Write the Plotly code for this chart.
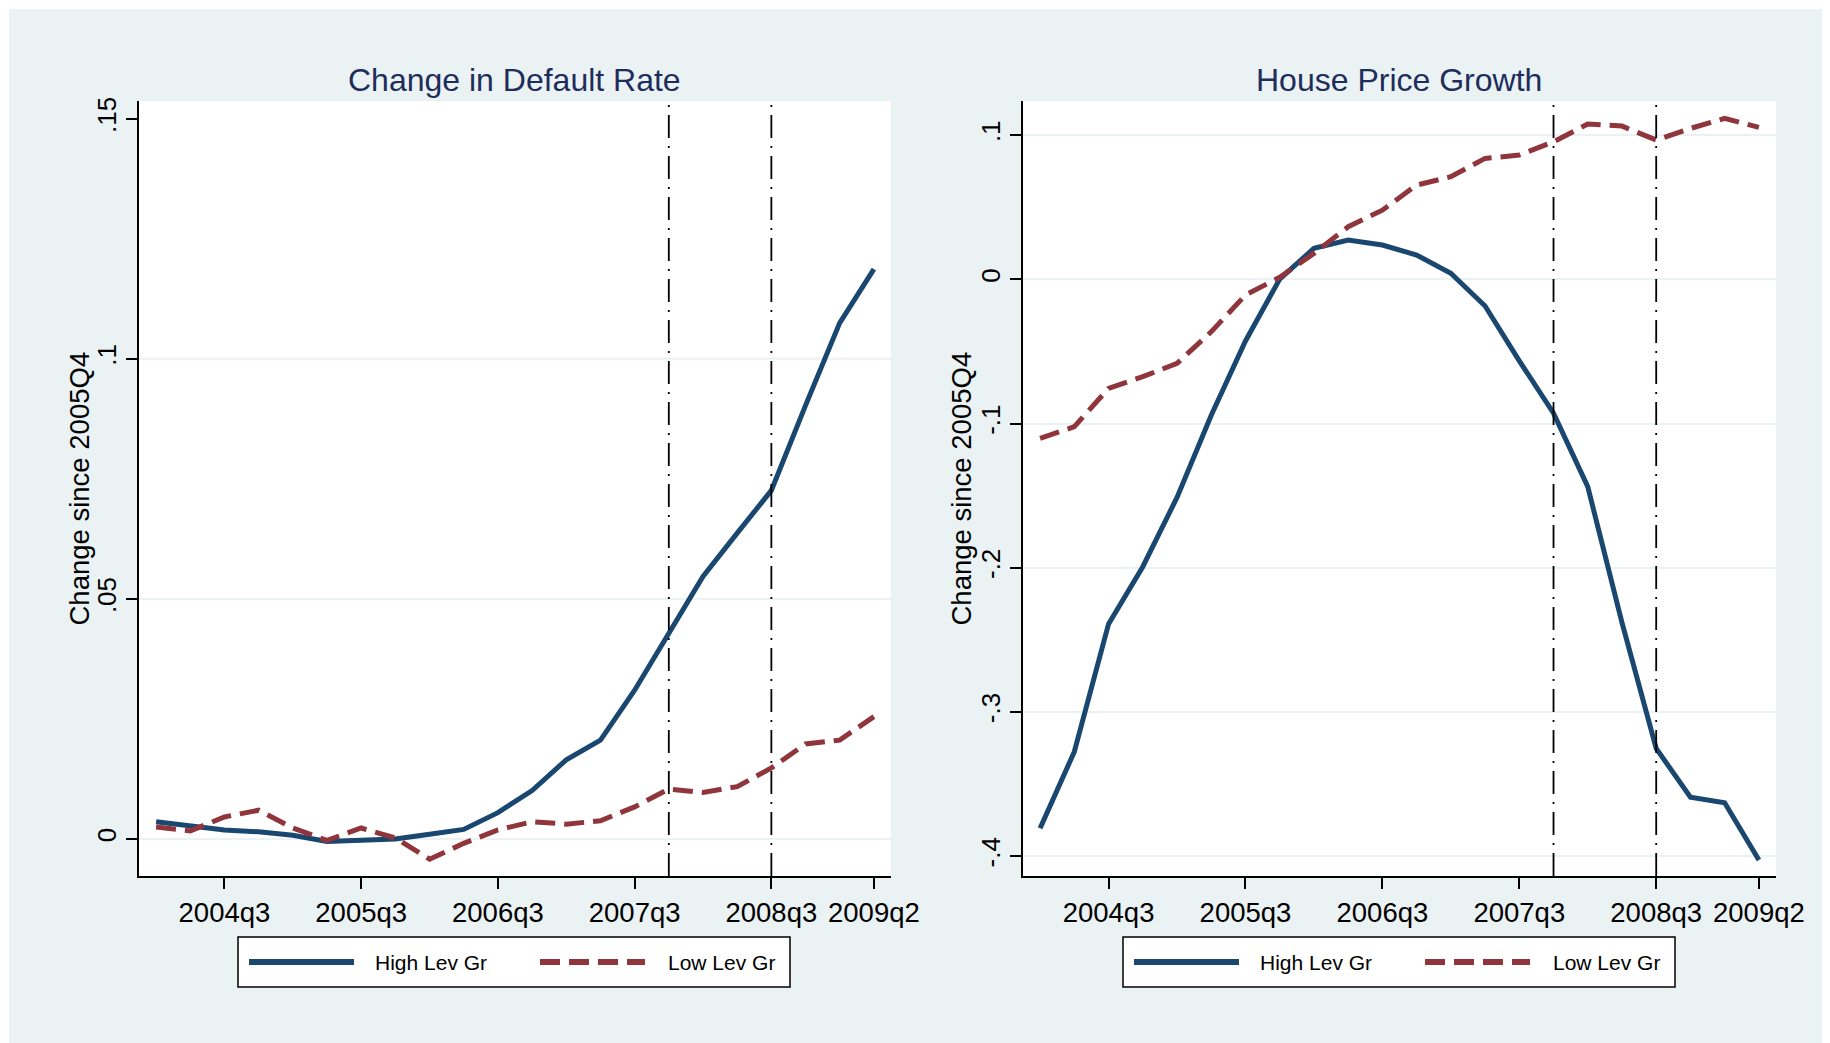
import plotly.graph_objects as go

# ---------------- data ----------------
quarters = ["2004q1", "2004q2", "2004q3", "2004q4", "2005q1", "2005q2", "2005q3", "2005q4",
            "2006q1", "2006q2", "2006q3", "2006q4", "2007q1", "2007q2", "2007q3", "2007q4",
            "2008q1", "2008q2", "2008q3", "2008q4", "2009q1", "2009q2"]

default_high = [0.0036, 0.0027, 0.0019, 0.0015, 0.0008, -0.0005, -0.0002, 0.0000, 0.0010, 0.0020, 0.0055,
                0.0101, 0.0165, 0.0206, 0.0310, 0.0429, 0.0547, 0.0637, 0.0726, 0.0903, 0.1075, 0.1187]
default_low = [0.0025, 0.0017, 0.0046, 0.0060, 0.0023, -0.0003, 0.0023, 0.0002, -0.0042, -0.0009, 0.0019,
               0.0036, 0.0031, 0.0038, 0.0067, 0.0104, 0.0097, 0.0109, 0.0148, 0.0198, 0.0206, 0.0255]

hp_high = [-0.3807, -0.3276, -0.2390, -0.1993, -0.1512, -0.0943, -0.0427, 0.0002, 0.0215, 0.0273, 0.0238,
           0.0169, 0.0042, -0.0185, -0.0565, -0.0928, -0.1438, -0.2380, -0.3253, -0.3592, -0.3630, -0.4027]
hp_low = [-0.1103, -0.1022, -0.0756, -0.0675, -0.0583, -0.0363, -0.0109, 0.0014, 0.0180, 0.0365, 0.0480,
          0.0654, 0.0712, 0.0839, 0.0862, 0.0954, 0.1077, 0.1063, 0.0966, 0.1047, 0.1117, 0.1054]

x_tick_labels = ["2004q3", "2005q3", "2006q3", "2007q3", "2008q3", "2009q2"]
event_quarters = ["2007q4", "2008q3"]

left_ticks = [0, 0.05, 0.10, 0.15]
left_tick_text = ["0", ".05", ".1", ".15"]
left_grid = [0, 0.05, 0.10]
right_ticks = [-0.4, -0.3, -0.2, -0.1, 0, 0.1]
right_tick_text = ["-.4", "-.3", "-.2", "-.1", "0", ".1"]

panel_titles = ["Change in Default Rate", "House Price Growth"]
y_title = "Change since 2005Q4"
series_names = ["High Lev Gr", "Low Lev Gr"]

# ---------------- style ----------------
OFF = 8                      # browser body margin
W, H = 1830 - OFF, 1043 - OFF
FONT = "Liberation Sans, Arial, Helvetica, sans-serif"
NAVY = "#1a476f"
MAROON = "#90353b"
BG = "#eaf2f3"
TITLE_C = "#1e2d5c"
LW = 5
RED_DASH = "20px,9px"


def px_x(p):
    return (p - OFF) / W


def px_y(p):
    return 1 - (p - OFF) / H


fig = go.Figure()

panels = [("x", "y", default_high, default_low), ("x2", "y2", hp_high, hp_low)]
for xa, ya, hi, lo in panels:
    fig.add_trace(go.Scatter(x=quarters, y=hi, mode="lines", name=series_names[0],
                             line=dict(color=NAVY, width=LW), xaxis=xa, yaxis=ya, showlegend=False))
    fig.add_trace(go.Scatter(x=quarters, y=lo, mode="lines", name=series_names[1],
                             line=dict(color=MAROON, width=LW, dash=RED_DASH), xaxis=xa, yaxis=ya,
                             showlegend=False))

y_dom = [px_y(876), px_y(101)]
xd1 = [px_x(139), px_x(891)]
xd2 = [px_x(1023), px_x(1776)]

common_x = dict(type="category", categoryorder="array", categoryarray=quarters,
                range=[-0.5, 21.5], tickmode="array", tickvals=x_tick_labels, ticktext=x_tick_labels,
                showline=True, linecolor="black", linewidth=2, ticks="outside", ticklen=11,
                tickwidth=2, tickcolor="black", showgrid=False, zeroline=False,
                tickfont=dict(family=FONT, size=27.5, color="black"), automargin=False, fixedrange=True)
common_y = dict(showline=True, linecolor="black", linewidth=2, ticks="outside", ticklen=11,
                tickwidth=2, tickcolor="black", gridcolor=BG, gridwidth=2,
                zeroline=False, tickangle=-90, tickfont=dict(family=FONT, size=26, color="black"),
                automargin=False, fixedrange=True)

fig.update_layout(
    width=W, height=H,
    margin=dict(l=0, r=0, t=0, b=0),
    paper_bgcolor=BG, plot_bgcolor="white",
    font=dict(family=FONT, color="black"),
    xaxis=dict(domain=xd1, anchor="y", **common_x),
    yaxis=dict(domain=y_dom, anchor="x", range=[-0.0077, 0.1537], tickvals=left_ticks,
               ticktext=left_tick_text, showgrid=False, **common_y),
    xaxis2=dict(domain=xd2, anchor="y2", **common_x),
    yaxis2=dict(domain=y_dom, anchor="x2", range=[-0.4138, 0.1237], tickvals=right_ticks,
                ticktext=right_tick_text, showgrid=True, **common_y),
    showlegend=False,
    hovermode=False,
)

# white outer edge of the page (outside the light graph region)
for (x0, y0, x1, y1) in [(OFF, OFF, 9, 1043), (OFF, OFF, 1830, 9), (1826, OFF, 1830, 1043)]:
    fig.add_shape(type="rect", xref="paper", yref="paper", x0=px_x(x0), x1=px_x(x1),
                  y0=px_y(y1), y1=px_y(y0), fillcolor="white", line=dict(width=0), layer="below")

# gridlines of the left panel (none at the top tick)
for g in left_grid:
    fig.add_shape(type="line", xref="x domain", yref="y", x0=0, x1=1, y0=g, y1=g,
                  line=dict(color=BG, width=2), layer="below")

# event lines (dash-dot)
for xa, ya in [("x", "y"), ("x2", "y2")]:
    for q in event_quarters:
        fig.add_shape(type="line", xref=xa, yref=f"{ya} domain", x0=q, x1=q, y0=0, y1=1,
                      line=dict(color="black", width=1.8, dash="23px,8px,2px,8px"))

# panel titles
for title, cx in zip(panel_titles, [515, 1399]):
    fig.add_annotation(text=title, xref="paper", yref="paper", x=px_x(cx), y=px_y(80),
                       xanchor="center", yanchor="middle", showarrow=False,
                       font=dict(family=FONT, size=32, color=TITLE_C))

# y-axis titles
for cx in [79, 961]:
    fig.add_annotation(text=y_title, xref="paper", yref="paper", x=px_x(cx), y=px_y(488.5),
                       xanchor="center", yanchor="middle", textangle=-90, showarrow=False,
                       font=dict(family=FONT, size=27.5, color="black"))

# legends (one boxed legend below each panel)
for dx in [0, 885]:
    fig.add_shape(type="rect", xref="paper", yref="paper",
                  x0=px_x(238 + dx), x1=px_x(790 + dx), y0=px_y(987), y1=px_y(937),
                  fillcolor="white", line=dict(color="black", width=1.5))
    fig.add_shape(type="line", xref="paper", yref="paper",
                  x0=px_x(249 + dx), x1=px_x(354 + dx), y0=px_y(962), y1=px_y(962),
                  line=dict(color=NAVY, width=LW + 1))
    fig.add_shape(type="line", xref="paper", yref="paper",
                  x0=px_x(540 + dx), x1=px_x(645 + dx), y0=px_y(962), y1=px_y(962),
                  line=dict(color=MAROON, width=LW + 1, dash=RED_DASH))
    for name, tx in zip(series_names, [373, 666]):
        fig.add_annotation(text=name, xref="paper", yref="paper", x=px_x(tx + dx), y=px_y(962),
                           xanchor="left", yanchor="middle", showarrow=False,
                           font=dict(family=FONT, size=21, color="black"))

fig.write_html("out.html", config={"displayModeBar": False})
